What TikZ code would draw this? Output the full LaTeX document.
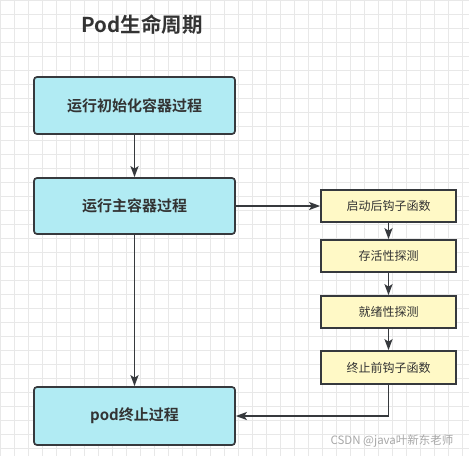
\documentclass[tikz,border=0pt]{standalone}
\usepackage{fontspec}
\setmainfont{Noto Sans CJK SC}
\newfontfamily\cjkb{Noto Sans CJK SC Bold}
\usetikzlibrary{arrows.meta}
\definecolor{gridc}{HTML}{E8E8E8}
\definecolor{bluef}{HTML}{B1EBF3}
\definecolor{yellf}{HTML}{FFF9C6}
\definecolor{strk}{HTML}{36393D}
\definecolor{txt}{HTML}{333333}
\definecolor{wm}{HTML}{A8A8A8}
\tikzset{
  bluebox/.style={draw=strk, line width=1.7pt, fill=bluef, rounded corners=3pt,
    minimum width=201pt, inner sep=0pt, text=txt, font=\cjkb\fontsize{15}{17}\selectfont},
  yellbox/.style={draw=strk, line width=1.7pt, fill=yellf,
    minimum width=135pt, minimum height=32pt, inner sep=0pt, text=txt, font=\fontsize{12}{14}\selectfont},
  conn/.style={draw=strk, line width=1.7pt, -{Stealth[length=11pt,width=8pt,inset=2.5pt]}}
}
\begin{document}
\begin{tikzpicture}[x=1pt,y=-1pt]
\useasboundingbox (0,0) rectangle (469,456);
\fill[white] (0,0) rectangle (469,456);
\foreach \i in {0,14,...,469} \draw[gridc, line width=0.8pt] (\i+0.5,0) -- (\i+0.5,456);
\foreach \j in {0,14,...,456} \draw[gridc, line width=0.8pt] (0,\j+0.5) -- (469,\j+0.5);
\node[text=txt, font=\cjkb\fontsize{20.5}{22}\selectfont] (title) at (142,25) {Pod生命周期};
\node[bluebox, minimum height=57pt] (b1) at (134.5,105.5) {运行初始化容器过程};
\node[bluebox, minimum height=56pt] (b2) at (134.5,206) {运行主容器过程};
\node[bluebox, minimum height=58pt] (b3) at (134.5,416) {pod终止过程};
\node[yellbox] (yA) at (388.5,206) {启动后钩子函数};
\node[yellbox] (yB) at (388.5,256) {存活性探测};
\node[yellbox] (yC) at (388.5,312) {就绪性探测};
\node[yellbox, minimum height=33pt] (yD) at (388.5,367.5) {终止前钩子函数};
\draw[conn] (b1) -- (b2);
\draw[conn] (b2) -- (b3);
\draw[conn] (b2) -- (yA);
\draw[conn] (yA) -- (yB);
\draw[conn] (yB) -- (yC);
\draw[conn] (yC) -- (yD);
\draw[conn] (yD.south) |- (b3.east);
\node[text=wm, font=\fontsize{11.5}{13}\selectfont] (wmk) at (392,441) {CSDN @java叶新东老师};
\end{tikzpicture}
\end{document}
